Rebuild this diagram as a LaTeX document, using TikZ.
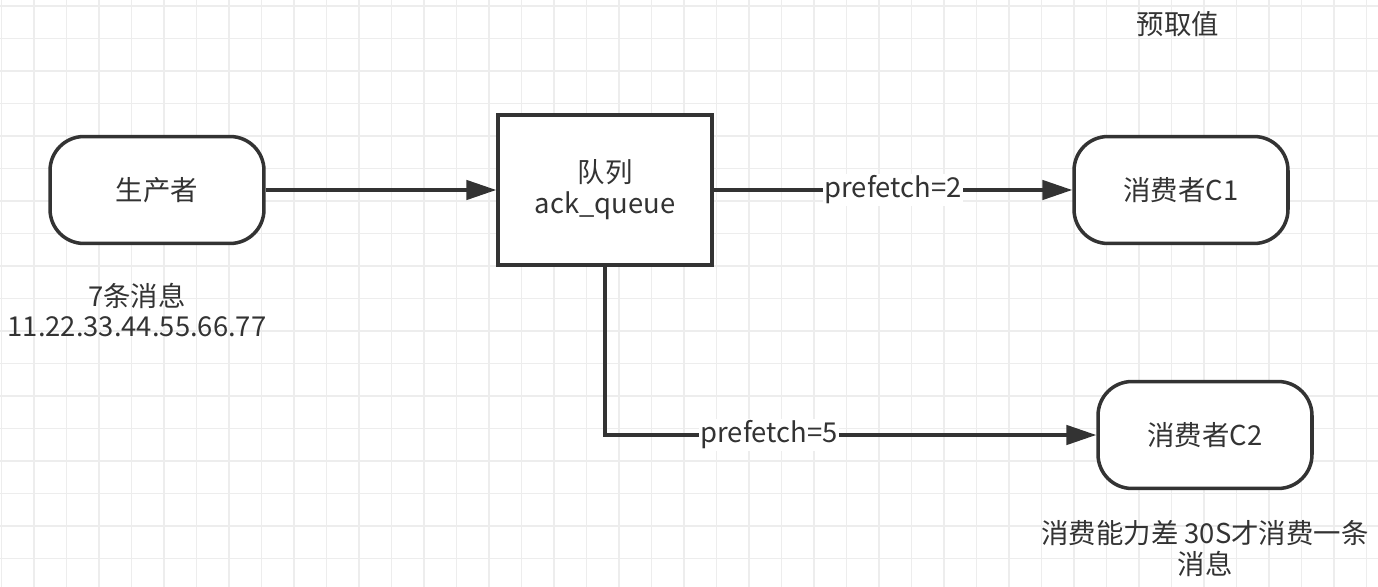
\documentclass[tikz,border=0pt]{standalone}
\usepackage{fontspec}
\setmainfont{Noto Sans CJK SC}
\usetikzlibrary{arrows.meta}
\definecolor{inkgray}{HTML}{333333}
\definecolor{gridgray}{HTML}{EDEDED}
\begin{document}
\begin{tikzpicture}[x=0.02cm, y=-0.02cm,
    every node/.style={font=\fontsize{15.6}{17.6}\selectfont, text=inkgray},
    term/.style={draw=inkgray, line width=2pt, rounded corners=0.68cm,
      minimum width=4.28cm, minimum height=2.14cm, fill=white},
    qbox/.style={draw=inkgray, line width=2pt, minimum width=4.28cm,
      minimum height=3cm, fill=white, align=center},
    flow/.style={draw=inkgray, line width=2pt,
      -{Triangle[length=17pt,width=11pt]}},
    lbl/.style={fill=white, inner sep=1pt},
    note/.style={align=center}]
  \useasboundingbox (0,0) rectangle (1378,587);
  %
  \foreach \gx in {1.5,34,...,1378} % grid
    \draw[gridgray, line width=0.6pt] (\gx,0) -- (\gx,587);
  \foreach \gy in {6,38.5,...,587}
    \draw[gridgray, line width=0.6pt] (0,\gy) -- (1378,\gy);
  %
  \node[term] (prod) at (157,190) {生产者};          % producer
  \node[qbox] (queue) at (605,190) {队列\\ack\_queue}; % queue
  \node[term] (cone) at (1181,190) {消费者C1};       % consumers
  \node[term] (ctwo) at (1205,435) {消费者C2};
  %
  \node[note] (msgs) at (137,310) {7条消息\\11.22.33.44.55.66.77};
  \node[note] (pre) at (1178,24) {预取值};
  \node[note] (slow) at (1205,549) {消费能力差 30S才消费一条\\消息};
  %
  \draw[flow] (prod) -- (queue);
  \draw[flow] (queue) -- node[lbl] {prefetch=2} (cone);
  \draw[flow] (queue.south) |- node[lbl, pos=0.667] {prefetch=5} (ctwo.west);
  %
\end{tikzpicture}
\end{document}
